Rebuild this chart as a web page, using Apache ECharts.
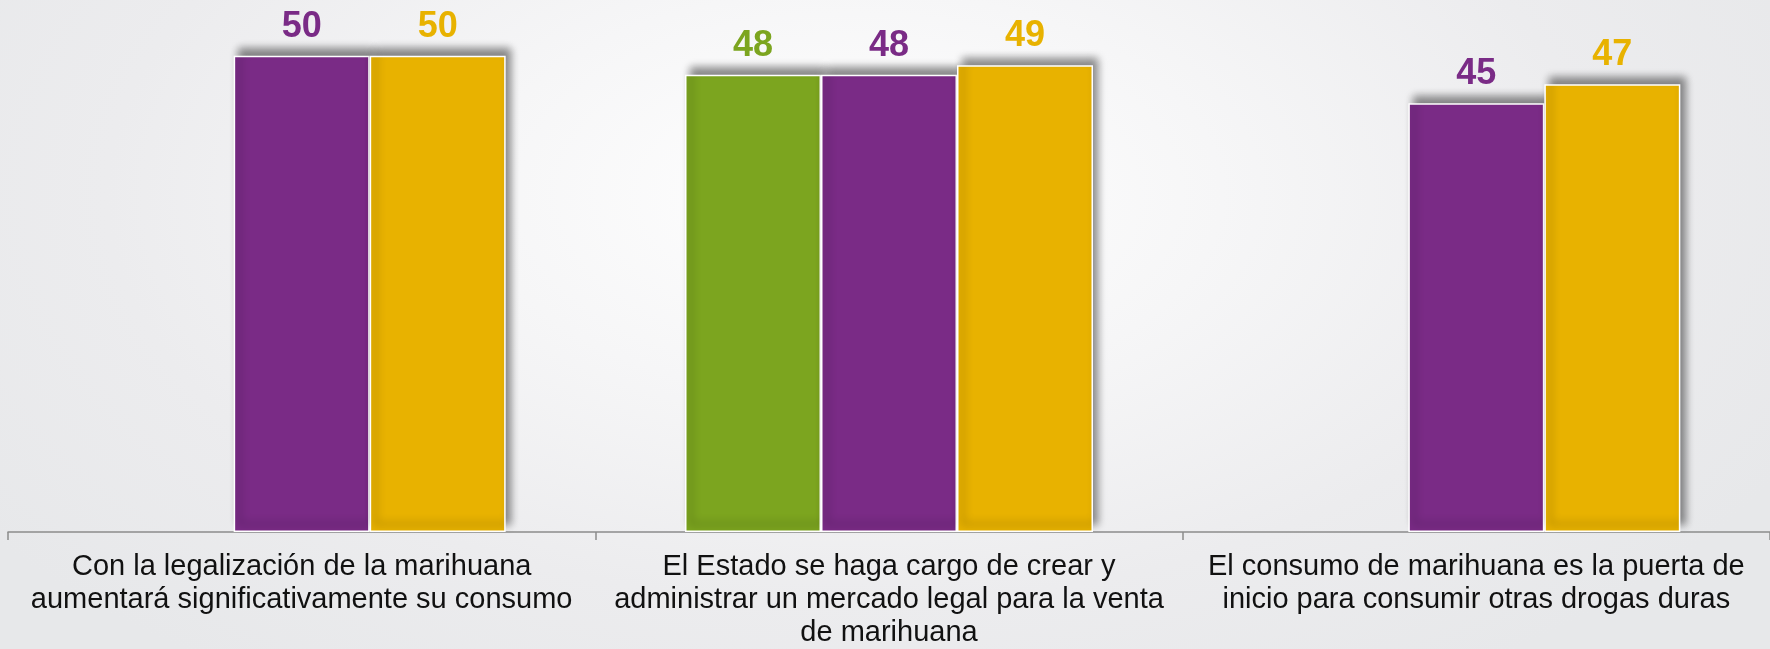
<!DOCTYPE html>
<html>
<head>
<meta charset="utf-8">
<script src="https://cdn.jsdelivr.net/npm/echarts@6/dist/echarts.min.js"></script>
<style>
  html, body { margin: 0; padding: 0; }
  body {
    width: 1770px; height: 649px; overflow: hidden;
    background: radial-gradient(ellipse 60% 90% at 48% 30%, #ffffff 0%, #f6f6f7 35%, #ececee 70%, #e7e8ea 100%);
  }
  #chart { width: 1770px; height: 649px; }
</style>
</head>
<body>
<div id="chart"></div>
<script>
const categories = [
  'Con la legalización de la marihuana\naumentará significativamente su consumo',
  'El Estado se haga cargo de crear y\nadministrar un mercado legal para la venta\nde marihuana',
  'El consumo de marihuana es la puerta de\ninicio para consumir otras drogas duras'
];
const seriesNames = ['Serie 1', 'Serie 2', 'Serie 3'];
const greenValues = [null, 48, null];
const purpleValues = [50, 48, 45];
const goldValues = [50, 49, 47];
const colors = ['#7CA51F', '#7A2B86', '#E8B200'];

const chart = echarts.init(document.getElementById('chart'), null, { renderer: 'canvas' });

function makeSeries(name, data, color) {
  return {
    name: name,
    type: 'bar',
    data: data,
    barWidth: 136,
    barGap: '0%',
    itemStyle: {
      color: color,
      borderColor: '#ffffff',
      borderWidth: 1.5,
      shadowColor: 'rgba(0,0,0,0.45)',
      shadowBlur: 8,
      shadowOffsetX: 5,
      shadowOffsetY: -7
    },
    label: {
      show: true,
      position: 'top',
      distance: 11,
      color: color,
      fontFamily: 'Liberation Sans, Arial, sans-serif',
      fontWeight: 'bold',
      fontSize: 36
    }
  };
}

chart.setOption({
  backgroundColor: 'transparent',
  animation: false,
  grid: { left: 8, top: 8, width: 1771, height: 528, containLabel: false },
  xAxis: {
    type: 'category',
    data: categories,
    axisLine: { show: true, lineStyle: { color: '#8c8c8c', width: 1.5 } },
    axisTick: { show: true, length: 8, lineStyle: { color: '#8c8c8c', width: 1.5 } },
    axisLabel: {
      interval: 0,
      margin: 18,
      color: '#111111',
      fontFamily: 'Liberation Sans, Arial, sans-serif',
      fontSize: 29,
      lineHeight: 33,
      align: 'center'
    }
  },
  yAxis: {
    type: 'value',
    min: 0,
    max: 55,
    show: false,
    splitLine: { show: false }
  },
  series: [
    makeSeries(seriesNames[0], greenValues, colors[0]),
    makeSeries(seriesNames[1], purpleValues, colors[1]),
    makeSeries(seriesNames[2], goldValues, colors[2])
  ]
});
</script>
</body>
</html>
